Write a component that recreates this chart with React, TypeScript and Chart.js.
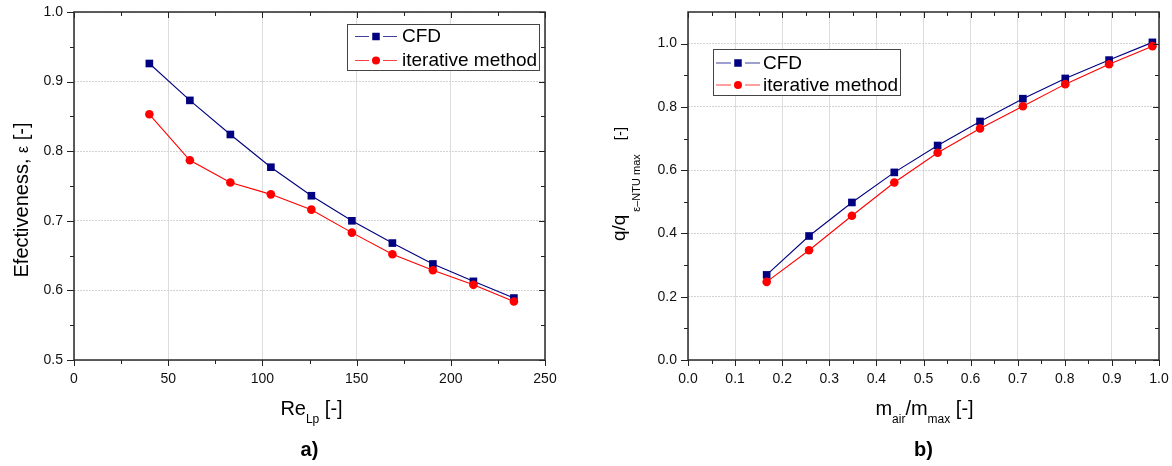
import React, { useEffect, useRef } from "react";
import { Chart, registerables } from "chart.js";

Chart.register(...registerables);

// ---------- data ----------
const seriesNames = ["CFD", "iterative method"];

// panel a)
const reLp = [40, 61.5, 83, 104.5, 126, 147.5, 169, 190.5, 212, 233.5];
const effCFD = [0.926, 0.873, 0.824, 0.777, 0.736, 0.7, 0.668, 0.638, 0.613, 0.589];
const effIter = [0.853, 0.787, 0.755, 0.738, 0.716, 0.683, 0.652, 0.629, 0.608, 0.584];

// panel b)
const massRatio = [0.167, 0.257, 0.348, 0.438, 0.53, 0.62, 0.711, 0.801, 0.894, 0.986];
const qCFD = [0.269, 0.392, 0.498, 0.593, 0.678, 0.754, 0.826, 0.89, 0.948, 1.004];
const qIter = [0.247, 0.347, 0.456, 0.561, 0.655, 0.732, 0.802, 0.872, 0.935, 0.992];

// ticks
const aXMajor = [0, 50, 100, 150, 200, 250];
const aXMinor = [25, 75, 125, 175, 225];
const aYMajor = [0.5, 0.6, 0.7, 0.8, 0.9, 1.0];
const aYMinor = [0.55, 0.65, 0.75, 0.85, 0.95];
const bXMajor = [0, 0.1, 0.2, 0.3, 0.4, 0.5, 0.6, 0.7, 0.8, 0.9, 1.0];
const bXMinor = [0.05, 0.15, 0.25, 0.35, 0.45, 0.55, 0.65, 0.75, 0.85, 0.95];
const bYMajor = [0, 0.2, 0.4, 0.6, 0.8, 1.0];
const bYMinor = [0.1, 0.3, 0.5, 0.7, 0.9];

const FONT = '"Liberation Sans", Arial, Helvetica, sans-serif';
const NAVY = "#000080";
const RED = "#ff0000";

type Part = { text?: string; size?: number; dy?: number; gap?: number; bold?: boolean };

function drawParts(ctx: CanvasRenderingContext2D, parts: Part[], cx: number, by: number) {
  const widths = parts.map((p) => {
    if (p.gap) return p.gap;
    ctx.font = `${p.bold ? "bold " : ""}${p.size}px ${FONT}`;
    return ctx.measureText(p.text || "").width;
  });
  const total = widths.reduce((a, b) => a + b, 0);
  let x = cx - total / 2;
  ctx.textAlign = "left";
  ctx.textBaseline = "alphabetic";
  ctx.fillStyle = "#000";
  parts.forEach((p, i) => {
    if (!p.gap) {
      ctx.font = `${p.bold ? "bold " : ""}${p.size}px ${FONT}`;
      ctx.fillText(p.text || "", x, by + (p.dy || 0));
    }
    x += widths[i];
  });
}

function drawMarker(ctx: CanvasRenderingContext2D, style: string, x: number, y: number, color: string) {
  ctx.fillStyle = color;
  if (style === "rect") {
    ctx.fillRect(x - 3.75, y - 3.75, 7.5, 7.5);
  } else {
    ctx.beginPath();
    ctx.arc(x, y, 4, 0, Math.PI * 2);
    ctx.fill();
  }
}

function framePlugin(cfg: any) {
  return {
    id: "frame",
    afterDraw(chart: any) {
      const ctx: CanvasRenderingContext2D = chart.ctx;
      const { left, right, top, bottom } = chart.chartArea;
      const xs = chart.scales.x;
      const ys = chart.scales.y;
      ctx.save();
      // ticks
      ctx.strokeStyle = "#222";
      ctx.lineWidth = 1;
      const vline = (x: number, y1: number, y2: number) => {
        const px = Math.round(x) + 0.5;
        ctx.beginPath();
        ctx.moveTo(px, y1);
        ctx.lineTo(px, y2);
        ctx.stroke();
      };
      const hline = (y: number, x1: number, x2: number) => {
        const py = Math.round(y) + 0.5;
        ctx.beginPath();
        ctx.moveTo(x1, py);
        ctx.lineTo(x2, py);
        ctx.stroke();
      };
      cfg.xMajor.forEach((v: number) => {
        const p = xs.getPixelForValue(v);
        vline(p, bottom, bottom + 6);
        vline(p, top, top + 6);
      });
      cfg.xMinor.forEach((v: number) => {
        const p = xs.getPixelForValue(v);
        vline(p, bottom, bottom + 4);
        vline(p, top, top + 4);
      });
      cfg.yMajor.forEach((v: number) => {
        const p = ys.getPixelForValue(v);
        hline(p, left - 7, left);
        hline(p, right - 6, right);
      });
      cfg.yMinor.forEach((v: number) => {
        const p = ys.getPixelForValue(v);
        hline(p, left - 4, left);
        hline(p, right - 4, right);
      });
      // frame
      ctx.strokeStyle = "#2a2a2a";
      ctx.lineWidth = 1.5;
      ctx.strokeRect(left, top, right - left, bottom - top);

      // legend
      const lg = cfg.legend;
      ctx.fillStyle = "#fff";
      ctx.fillRect(lg.x, lg.y, lg.w, lg.h);
      ctx.strokeStyle = "#444";
      ctx.lineWidth = 1;
      ctx.strokeRect(Math.round(lg.x) + 0.5, Math.round(lg.y) + 0.5, lg.w, lg.h);
      const dsets = chart.data.datasets;
      dsets.forEach((ds: any, i: number) => {
        const ry = lg.y + lg.rows[i];
        const col = ds.borderColor;
        ctx.strokeStyle = col;
        ctx.globalAlpha = 0.75;
        ctx.lineWidth = 1;
        const mx = lg.x + lg.markerX;
        ctx.beginPath();
        ctx.moveTo(lg.x + lg.lineStart, ry + 0.5);
        ctx.lineTo(mx - 6, ry + 0.5);
        ctx.moveTo(mx + 8, ry + 0.5);
        ctx.lineTo(lg.x + lg.lineEnd, ry + 0.5);
        ctx.stroke();
        ctx.globalAlpha = 1;
        drawMarker(ctx, ds.pointStyle, mx + 1, ry + 0.5, ds.backgroundColor);
        ctx.fillStyle = "#000";
        ctx.font = `19px ${FONT}`;
        ctx.textAlign = "left";
        ctx.textBaseline = "middle";
        ctx.fillText(ds.label, lg.x + lg.textX, ry + 1);
      });

      // axis titles
      const cx = (left + right) / 2 + cfg.xTitleShift;
      drawParts(ctx, cfg.xTitle, cx, cfg.xTitleY);
      drawParts(ctx, [{ text: cfg.panel, size: 20, bold: true }], (left + right) / 2, cfg.panelY);
      ctx.save();
      ctx.translate(cfg.yTitleX, cfg.yTitleCY);
      ctx.rotate(-Math.PI / 2);
      drawParts(ctx, cfg.yTitle, 0, 0);
      ctx.restore();
      ctx.restore();
    },
  };
}

function makeChart(canvas: HTMLCanvasElement, cfg: any) {
  const fmt = cfg.fmt;
  return new Chart(canvas, {
    type: "scatter",
    data: {
      datasets: [
        {
          label: seriesNames[0],
          data: cfg.x.map((v: number, i: number) => ({ x: v, y: cfg.cfd[i] })),
          showLine: true,
          borderColor: NAVY,
          backgroundColor: NAVY,
          borderWidth: 1.1,
          pointStyle: "rect",
          pointRadius: 5.4,
          pointBorderWidth: 0,
          order: 2,
        },
        {
          label: seriesNames[1],
          data: cfg.x.map((v: number, i: number) => ({ x: v, y: cfg.iter[i] })),
          showLine: true,
          borderColor: RED,
          backgroundColor: RED,
          borderWidth: 1.1,
          pointStyle: "circle",
          pointRadius: 4.3,
          pointBorderWidth: 0,
          order: 1,
        },
      ],
    },
    options: {
      responsive: false,
      animation: false,
      events: [],
      layout: { padding: { top: 12, right: cfg.padRight, left: 0, bottom: 0 } },
      plugins: {
        legend: { display: false },
        tooltip: { enabled: false },
        title: { display: false },
      },
      scales: {
        x: {
          type: "linear",
          min: cfg.xMin,
          max: cfg.xMax,
          afterBuildTicks: (s: any) => {
            s.ticks = cfg.xMajor.map((v: number) => ({ value: v }));
          },
          afterFit: (s: any) => {
            s.height = 106;
            s.paddingLeft = 0;
            s.paddingRight = 0;
          },
          grid: { color: "#dcdcdc", lineWidth: 1, drawTicks: false },
          border: { display: false },
          ticks: {
            padding: 11,
            maxRotation: 0,
            autoSkip: false,
            color: "#111",
            font: { family: FONT, size: 14 },
            callback: (v: any) => fmt(Number(v)),
          },
        },
        y: {
          type: "linear",
          min: cfg.yMin,
          max: cfg.yMax,
          afterBuildTicks: (s: any) => {
            s.ticks = cfg.yMajor.map((v: number) => ({ value: v }));
          },
          afterFit: (s: any) => {
            s.width = cfg.yWidth;
            s.paddingTop = 0;
            s.paddingBottom = 0;
          },
          grid: { color: "#d2d2d2", lineWidth: 1, drawTicks: false },
          border: { display: false, dash: [2, 1] },
          ticks: {
            padding: 11,
            autoSkip: false,
            color: "#111",
            font: { family: FONT, size: 14 },
            callback: (v: any) => Number(v).toFixed(1),
          },
        },
      },
    },
    plugins: [framePlugin(cfg)],
  } as any);
}

export default function App() {
  const leftRef = useRef<HTMLCanvasElement>(null);
  const rightRef = useRef<HTMLCanvasElement>(null);

  useEffect(() => {
    const a = makeChart(leftRef.current!, {
      x: reLp,
      cfd: effCFD,
      iter: effIter,
      xMin: 0,
      xMax: 250,
      yMin: 0.5,
      yMax: 1.0,
      xMajor: aXMajor,
      xMinor: aXMinor,
      yMajor: aYMajor,
      yMinor: aYMinor,
      fmt: (v: number) => String(Math.round(v)),
      yWidth: 74,
      padRight: 41,
      legend: { x: 347, y: 24, w: 192, h: 46, rows: [12, 36], lineStart: 8, lineEnd: 50, markerX: 28, textX: 55 },
      xTitle: [
        { text: "Re", size: 20 },
        { text: "Lp", size: 12, dy: 8 },
        { text: " [-]", size: 20 },
      ],
      xTitleY: 415,
      xTitleShift: 2,
      panel: "a)",
      panelY: 456,
      yTitle: [
        { text: "Efectiveness, ", size: 20 },
        { text: "ε", size: 16 },
        { text: " [-]", size: 20 },
      ],
      yTitleX: 28,
      yTitleCY: 200,
    });
    const b = makeChart(rightRef.current!, {
      x: massRatio,
      cfd: qCFD,
      iter: qIter,
      xMin: 0,
      xMax: 1.0,
      yMin: 0,
      yMax: 1.1,
      xMajor: bXMajor,
      xMinor: bXMinor,
      yMajor: bYMajor,
      yMinor: bYMinor,
      fmt: (v: number) => v.toFixed(1),
      yWidth: 102,
      padRight: 13,
      legend: { x: 127, y: 49, w: 187, h: 46, rows: [13.5, 35.5], lineStart: 3, lineEnd: 47, markerX: 24, textX: 50 },
      xTitle: [
        { text: "m", size: 20 },
        { text: "air", size: 12, dy: 8 },
        { text: "/m", size: 20 },
        { text: "max", size: 12, dy: 8 },
        { text: " [-]", size: 20 },
      ],
      xTitleY: 415,
      xTitleShift: 1,
      panel: "b)",
      panelY: 456,
      yTitle: [
        { text: "q/q", size: 19 },
        { gap: 3 },
        { text: "ε\u2013NTU max", size: 11, dy: 15 },
        { gap: 14 },
        { text: "[-]", size: 15 },
      ],
      yTitleX: 39,
      yTitleCY: 184,
    });
    return () => {
      a.destroy();
      b.destroy();
    };
  }, []);

  return (
    <div style={{ position: "absolute", left: 0, top: 0, width: 1172, height: 466, background: "#fff" }}>
      <canvas ref={leftRef} width={586} height={466} style={{ position: "absolute", left: 0, top: 0, width: 586, height: 466 }} />
      <canvas ref={rightRef} width={586} height={466} style={{ position: "absolute", left: 586, top: 0, width: 586, height: 466 }} />
    </div>
  );
}
